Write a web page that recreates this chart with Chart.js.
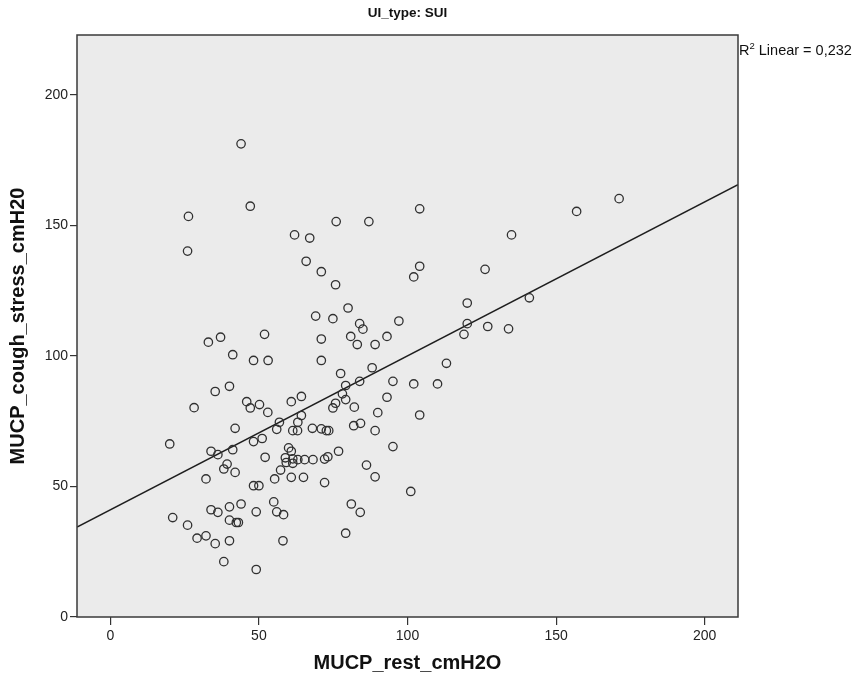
<!DOCTYPE html>
<html>
<head>
<meta charset="utf-8">
<script src="https://cdn.jsdelivr.net/npm/chart.js@4.4.1/dist/chart.umd.min.js"></script>
<style>
  html, body { margin: 0; padding: 0; background: #ffffff; }
  #wrap { width: 859px; height: 681px; }
</style>
</head>
<body>
<div id="wrap"><canvas id="chart" width="859" height="681"></canvas></div>
<script>
// MUCP at rest (x) and under cough stress (y), cmH2O, SUI group
const mucpRest = [
  44.0, 47.1, 26.3, 76.0, 87.0, 104.1, 156.9, 171.2, 62.0, 67.1,
  135.0, 26.0, 65.9, 104.1, 71.0, 102.1, 126.1, 75.8, 141.0, 120.1,
  80.0, 69.1, 74.9, 97.1, 83.9, 85.0, 120.1, 127.0, 134.0, 119.0,
  51.9, 37.1, 33.0, 71.0, 80.9, 93.1, 83.1, 89.1, 41.2, 48.2,
  53.1, 71.0, 113.1, 88.1, 77.5, 83.9, 79.2, 95.1, 102.1, 110.1,
  40.1, 35.3, 78.1, 79.2, 64.3, 93.1, 60.9, 45.9, 50.2, 47.1,
  28.2, 53.0, 75.8, 74.9, 82.1, 64.3, 90.0, 104.1, 56.9, 63.1,
  56.0, 42.0, 61.4, 63.0, 68.0, 71.0, 72.7, 73.5, 81.9, 84.2,
  89.1, 51.1, 48.2, 20.0, 95.1, 41.2, 33.9, 36.2, 60.0, 60.9,
  76.8, 52.1, 58.9, 61.4, 63.1, 65.4, 68.2, 72.1, 73.2, 59.2,
  61.4, 39.3, 38.2, 42.0, 57.3, 86.2, 32.2, 55.3, 60.9, 65.0,
  72.1, 89.1, 48.2, 50.0, 101.1, 81.1, 84.1, 79.2, 21.0, 26.0,
  33.9, 36.2, 40.1, 44.0, 49.1, 55.0, 56.0, 58.3, 40.1, 42.4,
  43.1, 29.2, 32.2, 35.3, 40.1, 58.1, 38.2, 49.1
];
const mucpCough = [
  181.3, 157.4, 153.5, 151.5, 151.5, 156.4, 155.4, 160.3, 146.4, 145.2,
  146.4, 140.2, 136.3, 134.4, 132.3, 130.3, 133.2, 127.3, 122.3, 120.3,
  118.4, 115.3, 114.3, 113.4, 112.4, 110.3, 112.4, 111.3, 110.4, 108.3,
  108.3, 107.2, 105.3, 106.5, 107.5, 107.5, 104.4, 104.4, 100.5, 98.3,
  98.3, 98.3, 97.2, 95.5, 93.3, 90.3, 88.7, 90.3, 89.3, 89.3,
  88.4, 86.4, 85.5, 83.3, 84.5, 84.2, 82.5, 82.5, 81.4, 80.1,
  80.2, 78.4, 81.9, 80.1, 80.4, 77.2, 78.3, 77.4, 74.6, 74.6,
  71.9, 72.3, 71.4, 71.4, 72.3, 72.1, 71.4, 71.4, 73.3, 74.2,
  71.4, 68.4, 67.2, 66.3, 65.3, 64.1, 63.5, 62.2, 64.8, 63.5,
  63.5, 61.2, 61.0, 60.6, 60.3, 60.3, 60.3, 60.5, 61.4, 59.2,
  58.9, 58.6, 56.7, 55.4, 56.3, 58.2, 52.9, 52.9, 53.5, 53.5,
  51.5, 53.7, 50.3, 50.3, 48.1, 43.3, 40.1, 32.1, 38.1, 35.2,
  41.1, 40.1, 42.2, 43.3, 40.3, 44.1, 40.3, 39.2, 37.1, 36.2,
  36.2, 30.2, 31.1, 28.1, 29.2, 29.2, 21.2, 18.2
];

const xTicks = [0, 50, 100, 150, 200];
const yTicks = [0, 50, 100, 150, 200];
const xRange = [-11.2, 211.2];
const yRange = [0, 223];
const panelTitle = 'UI_type: SUI';
const xTitle = 'MUCP_rest_cmH2O';
const yTitle = 'MUCP_cough_stress_cmH20';
const r2Value = '0,232';

// Least-squares fit of cough pressure on rest pressure
function linearFit(xs, ys) {
  const n = xs.length;
  const mx = xs.reduce((a, b) => a + b, 0) / n;
  const my = ys.reduce((a, b) => a + b, 0) / n;
  let sxy = 0, sxx = 0;
  for (let i = 0; i < n; i++) {
    sxy += (xs[i] - mx) * (ys[i] - my);
    sxx += (xs[i] - mx) * (xs[i] - mx);
  }
  const slope = sxy / sxx;
  return { slope, intercept: my - slope * mx };
}
const fit = linearFit(mucpRest, mucpCough);
const fitLine = xRange.map(x => ({ x, y: fit.intercept + fit.slope * x }));
const points = mucpRest.map((x, i) => ({ x, y: mucpCough[i] }));

const FONT = "'Liberation Sans', Arial, sans-serif";

const panelDecor = {
  id: 'panelDecor',
  beforeDraw(chart) {
    const { ctx, chartArea: a } = chart;
    ctx.save();
    ctx.fillStyle = '#ebebeb';
    ctx.fillRect(a.left, a.top, a.right - a.left, a.bottom - a.top);
    ctx.restore();
  },
  afterDraw(chart) {
    const { ctx, chartArea: a } = chart;
    ctx.save();
    ctx.strokeStyle = '#3a3a3a';
    ctx.lineWidth = 1.5;
    ctx.strokeRect(a.left, a.top, a.right - a.left, a.bottom - a.top);

    // panel title
    ctx.fillStyle = '#111';
    ctx.font = 'bold 13.5px ' + FONT;
    ctx.textAlign = 'center';
    ctx.textBaseline = 'middle';
    ctx.fillText(panelTitle, (a.left + a.right) / 2, 13);

    // R² annotation
    ctx.textAlign = 'left';
    ctx.textBaseline = 'alphabetic';
    let x = a.right + 1;
    const base = 55;
    ctx.font = '14.5px ' + FONT;
    ctx.fillText('R', x, base);
    x += ctx.measureText('R').width;
    ctx.font = '9.5px ' + FONT;
    ctx.fillText('2', x, base - 6);
    x += ctx.measureText('2').width;
    ctx.font = '14.5px ' + FONT;
    ctx.fillText(' Linear = ' + r2Value, x, base);
    ctx.restore();
  }
};

new Chart(document.getElementById('chart'), {
  type: 'scatter',
  data: {
    datasets: [
      {
        type: 'scatter',
        data: points,
        pointStyle: 'circle',
        pointRadius: 4.2,
        pointBorderWidth: 1.3,
        pointBorderColor: '#303030',
        pointBackgroundColor: 'rgba(0,0,0,0)',
        order: 1
      },
      {
        type: 'line',
        data: fitLine,
        borderColor: '#1e1e1e',
        borderWidth: 1.6,
        pointRadius: 0,
        fill: false,
        tension: 0,
        order: 2
      }
    ]
  },
  plugins: [panelDecor],
  options: {
    responsive: false,
    animation: false,
    devicePixelRatio: 1,
    layout: { padding: { left: 0, top: 35, right: 121, bottom: 0 } },
    plugins: {
      legend: { display: false },
      tooltip: { enabled: false },
      title: { display: false }
    },
    scales: {
      x: {
        type: 'linear',
        min: xRange[0],
        max: xRange[1],
        afterBuildTicks: s => { s.ticks = xTicks.map(v => ({ value: v })); },
        afterFit: s => { s.height = 64; },
        border: { display: false },
        grid: { drawOnChartArea: false, drawTicks: true, tickLength: 8, color: '#333', lineWidth: 1.2 },
        ticks: { color: '#222', font: { family: FONT, size: 14 }, padding: 3, maxRotation: 0 },
        title: {
          display: true, text: xTitle, color: '#111',
          font: { family: FONT, size: 20, weight: 'bold' },
          padding: { top: 0, bottom: 6 }
        }
      },
      y: {
        type: 'linear',
        min: yRange[0],
        max: yRange[1],
        afterBuildTicks: s => { s.ticks = yTicks.map(v => ({ value: v })); },
        afterFit: s => { s.width = 77; },
        border: { display: false },
        grid: { drawOnChartArea: false, drawTicks: true, tickLength: 7, color: '#333', lineWidth: 1.2 },
        ticks: { color: '#222', font: { family: FONT, size: 14 }, padding: 2 },
        title: {
          display: true, text: yTitle, color: '#111',
          font: { family: FONT, size: 20, weight: 'bold' },
          padding: { top: 6, bottom: 0 }
        }
      }
    }
  }
});
</script>
</body>
</html>
